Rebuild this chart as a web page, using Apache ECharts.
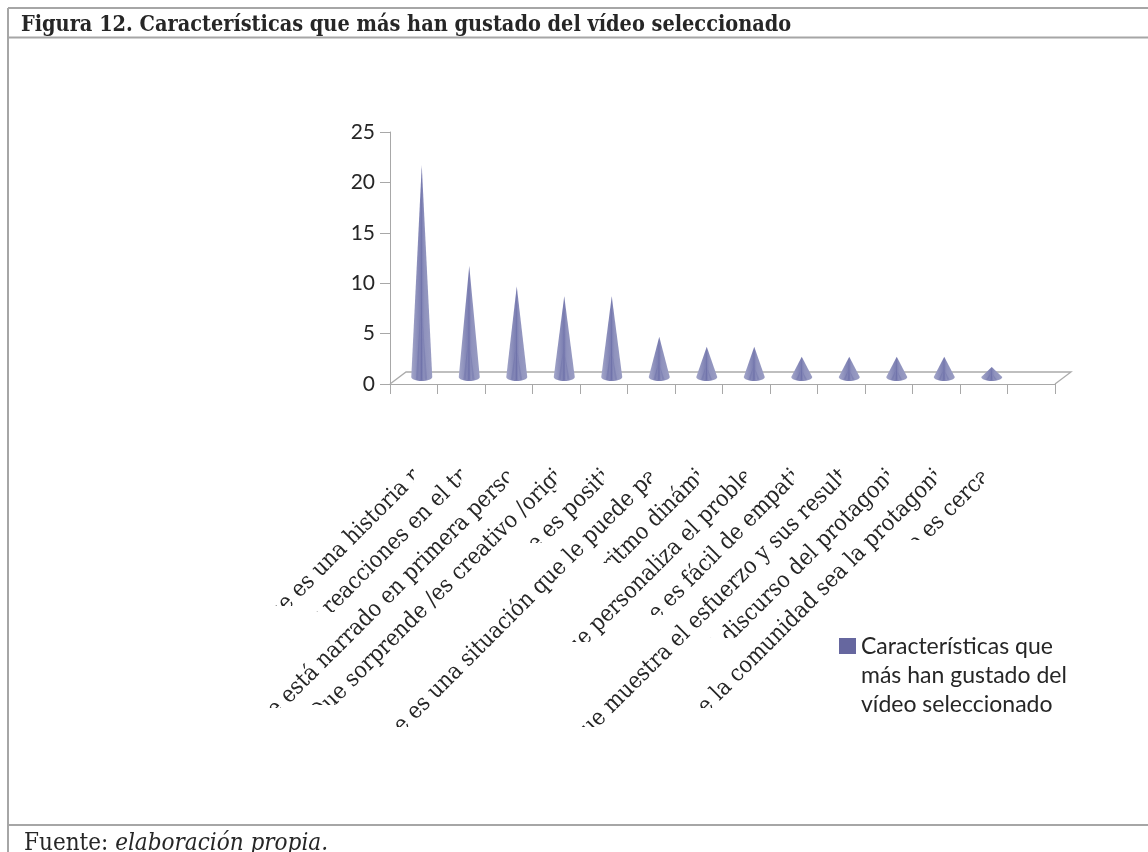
<!DOCTYPE html>
<html>
<head>
<meta charset="utf-8">
<style>html,body{margin:0;padding:0;background:#fff;overflow:hidden}#c{width:1148px;height:852px}</style>
<script src="https://cdn.jsdelivr.net/npm/echarts@6/dist/echarts.min.js"></script>
</head>
<body>
<div id="c"></div>
<script>
const titleText = 'Figura 12. Características que más han gustado del vídeo seleccionado';
const seriesName = 'Características que\nmás han gustado del\nvídeo seleccionado';
const yTicks = [0, 5, 10, 15, 20, 25];
const categories = [
  'Que es una historia r',
  'ver reacciones en el tr',
  'Que está narrado en primera perso',
  'Que sorprende /es creativo /origi',
  'Que es positi',
  'Que es una situación que le puede pa',
  'el ritmo dinámi',
  'Que personaliza el proble',
  'Que es fácil de empati',
  'Que muestra el esfuerzo y sus result',
  'el discurso del protagoni',
  'Que la comunidad sea la protagoni',
  'Que es cerca',
  ''
];
const values = [21, 11, 9, 8, 8, 4, 3, 3, 2, 2, 2, 2, 1];
// where the reference cuts off each rotated label at its lower end
const labelCutY = [606, 612, 708, 705, 543, 727, 563, 642, 615, 727, 638, 708, 540, 540];

const DX = 8, DY = -7, HW = 10.5, RY = 4;
const SERIF = '"DejaVu Serif Condensed", "DejaVu Serif", serif';

function renderCone(params, api) {
  const p = api.coord([api.value(0), api.value(1)]);
  const b = api.coord([api.value(0), 0]);
  const x = b[0] + DX, yb = b[1] + DY, yt = p[1] + DY;
  const pts = [[x, yt]];
  for (let k = 0; k <= 16; k++) {
    const a = Math.PI * k / 16;
    pts.push([x + HW * Math.cos(a), yb + RY * Math.sin(a)]);
  }
  const h = yb - yt;
  const streak = (fx, w, from, op) => ({
    type: 'polygon', silent: true,
    shape: { points: [[x + fx * HW * from, yt + h * (1 - from)], [x + fx * HW + w, yb + RY * 0.7], [x + fx * HW - w, yb + RY * 0.7]] },
    style: { fill: '#4f5296', opacity: op }
  });
  return {
    type: 'group',
    children: [
      { type: 'polygon', shape: { points: pts }, style: {
        fill: { type: 'linear', x: 0, y: 0, x2: 1, y2: 0, colorStops: [
          { offset: 0, color: '#a3a6c9' }, { offset: 0.3, color: '#8a8dba' },
          { offset: 0.48, color: '#7a7db1' }, { offset: 0.62, color: '#8f92bd' },
          { offset: 1, color: '#9a9dc3' } ] } } },
      streak(-0.02, 0.7, 1, 0.25),
      streak(-0.45, 1.2, 0.3, 0.22),
      streak(0.4, 1.2, 0.25, 0.22)
    ]
  };
}

function renderFloor(params, api) {
  const cs = params.coordSys;
  const x0 = cs.x, x1 = cs.x + cs.width, y0 = cs.y + cs.height;
  const line = (pts) => ({ type: 'polyline', shape: { points: pts }, silent: true,
    style: { fill: null, stroke: '#ababab', lineWidth: 1.3 } });
  return { type: 'group', children: [
    line([[x0, y0], [x0 + 16, y0 - 12], [x1 + 16, y0 - 12], [x1, y0]])
  ]};
}

function renderLabel(params, api) {
  const i = api.value(0);
  const c = api.coord([i, 0]);
  const text = categories[i];
  return {
    type: 'group',
    clipPath: { type: 'rect', shape: { x: c[0] - 400, y: c[1], width: 400, height: labelCutY[i] - c[1] } },
    children: [{
      type: 'text', x: c[0] + 3, y: c[1] + 89, rotation: Math.PI / 4, silent: true,
      style: { text: text, font: '23px ' + SERIF, fill: '#262626', align: 'right', verticalAlign: 'middle' }
    }]
  };
}

const frame = (x1, y1, x2, y2) => ({ type: 'line', silent: true,
  shape: { x1, y1, x2, y2 }, style: { stroke: '#a6a6a6', lineWidth: 2 } });

const chart = echarts.init(document.getElementById('c'), null, { renderer: 'canvas' });
chart.setOption({
  animation: false,
  backgroundColor: '#fff',
  title: [
    { text: titleText, left: 21, top: 15, padding: 0,
      textStyle: { fontFamily: SERIF, fontWeight: 'bold', fontSize: 21.5, color: '#262626', lineHeight: 21 } },
    { text: '{a|Fuente: }{b|elaboración propia.}', left: 24, top: 832, padding: 0,
      textStyle: { fontWeight: 'normal', rich: {
        a: { fontFamily: SERIF, fontSize: 24, fontWeight: 'normal', color: '#262626' },
        b: { fontFamily: SERIF, fontSize: 24, fontWeight: 'normal', fontStyle: 'italic', color: '#262626' } } } }
  ],
  graphic: [
    { type: 'group', silent: true, children: [
      frame(8, 8, 1148, 8), frame(8, 37.5, 1148, 37.5), frame(8, 825, 1148, 825), frame(8, 8, 8, 852)
    ]}
  ],
  legend: {
    show: true, left: 839, top: 632, padding: 0, orient: 'vertical', selectedMode: false,
    data: [{ name: seriesName, icon: 'path://M0 6H17V22H0Z M0 0L0 0Z M0 87L0 87Z' }],
    itemWidth: 17, itemHeight: 87,
    textStyle: { fontFamily: 'Lato', fontSize: 23, lineHeight: 29, color: '#262626' }
  },
  grid: { left: 390, top: 132, width: 665, height: 252 },
  xAxis: {
    type: 'category', data: categories, boundaryGap: true,
    axisLine: { show: true, lineStyle: { color: '#a8a8a8', width: 1 } },
    axisTick: { show: true, alignWithLabel: false, length: 10, interval: 0, lineStyle: { color: '#a8a8a8' } },
    axisLabel: { show: false },
    splitLine: { show: false }
  },
  yAxis: {
    type: 'value', min: yTicks[0], max: yTicks[yTicks.length - 1], interval: yTicks[1] - yTicks[0],
    axisLine: { show: true, lineStyle: { color: '#a8a8a8', width: 1 } },
    axisTick: { show: true, length: 10, lineStyle: { color: '#a8a8a8' } },
    axisLabel: { fontFamily: 'Lato', fontSize: 21, color: '#262626', margin: 15 },
    splitLine: { show: false }
  },
  series: [
    { type: 'custom', name: 'floor', silent: true, z: 1, renderItem: renderFloor, data: [[0, 0]], encode: { x: 0, y: 1 }, tooltip: { show: false } },
    { type: 'custom', name: seriesName, z: 3, renderItem: renderCone, itemStyle: { color: '#66679f' },
      data: values.map((v, i) => [i, v]), encode: { x: 0, y: 1 } },
    { type: 'custom', name: 'labels', silent: true, z: 2, renderItem: renderLabel,
      data: categories.map((c, i) => [i, 0]), encode: { x: 0, y: 1 } }
  ]
});
</script>
</body>
</html>
